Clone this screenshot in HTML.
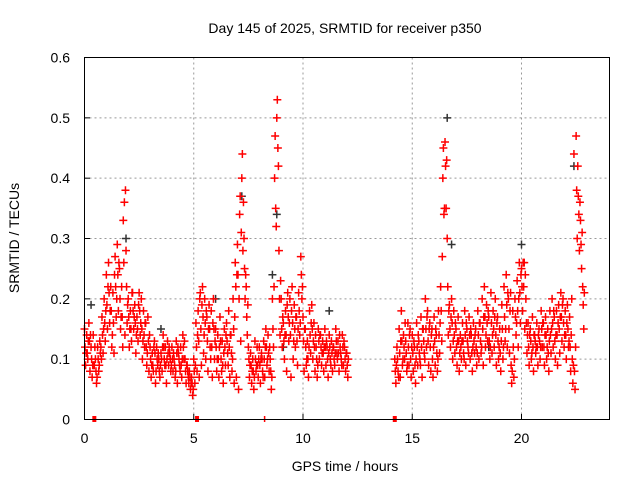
<!DOCTYPE html>
<html><head><meta charset="utf-8"><style>
body{margin:0;background:#fff}
svg{display:block;font-family:"Liberation Sans",sans-serif}
</style></head><body>
<svg id="chart" width="640" height="480" viewBox="0 0 640 480">
<text x="345" y="33" font-size="14" text-anchor="middle">Day 145 of 2025, SRMTID for receiver p350</text>
<text x="0" y="0" font-size="14" text-anchor="middle" transform="translate(19,238) rotate(-90)">SRMTID / TECUs</text>
<text x="345" y="471" font-size="14" text-anchor="middle">GPS time / hours</text>
<g id="grid"></g>
<g id="ticks"></g>
<g id="marks"></g>
<rect x="84.5" y="57.5" width="525" height="362" fill="none" stroke="#000" stroke-width="1"/>
</svg>
<script>
const xTicks=[0,5,10,15,20];
const yTicks=[0,0.1,0.2,0.3,0.4,0.5,0.6];
const yTickLabels=["0","0.1","0.2","0.3","0.4","0.5","0.6"];
const seg1Start=0.0;
const seg2Start=14.2;
const seg1A=[.15,.14,.16,.12,.14,.10,.12,.13,.17,.20,
.24,.26,.22,.21,.27,.29,.25,.22,.26,.28,
.20,.18,.21,.19,.17,.21,.20,.18,.16,.17,
.12,.11,.13,.12,.10,.11,.14,.12,.13,.11,
.12,.10,.13,.11,.12,.14,.10,.09,.08,.07,
.10,.16,.18,.21,.22,.20,.17,.19,.18,.20,
.15,.14,.17,.13,.15,.16,.18,.14,.20,.26,
.29,.34,.40,.30,.22,.12,.11,.10,.13,.12,
.12,.11,.13,.15,.14,.10,.20,.40,.50,.28,
.20,.16,.18,.21,.20,.22,.19,.17,.21,.27,
.17,.15,.13,.18,.19,.16,.12,.15,.14,.13,
.15,.12,.14,.13,.12,.15,.13,.12,.14,.12,.11];
const seg1B=[.09,.10,.08,.07,.09,.06,.08,.12,.11,.13,
.15,.16,.12,.11,.17,.18,.15,.12,.14,.16,
.12,.13,.15,.11,.13,.14,.10,.12,.09,.08,
.07,.08,.06,.09,.07,.08,.10,.06,.09,.08,
.08,.07,.06,.09,.07,.10,.06,.07,.05,.04,
.06,.08,.07,.09,.11,.10,.08,.12,.07,.10,
.08,.07,.10,.06,.09,.11,.07,.08,.06,.07,
.05,.13,.28,.20,.14,.07,.06,.05,.08,.07,
.06,.08,.07,.09,.08,.05,.12,.35,.45,.14,
.12,.10,.08,.13,.07,.10,.12,.09,.14,.20,
.08,.09,.07,.11,.10,.08,.07,.10,.09,.08,
.09,.07,.10,.08,.09,.11,.08,.10,.09,.08,.07];
const seg1C=[.12,.11,.13,.10,.09,.08,.10,.11,.14,.16,
.19,.21,.18,.16,.22,.24,.20,.17,.36,.22,
.17,.15,.18,.16,.15,.18,.15,.14,.12,.13,
.10,.09,.11,.10,.08,.10,.12,.09,.11,.10,
.10,.09,.11,.10,.09,.12,.08,.08,.07,.06,
.08,.12,.13,.15,.17,.16,.13,.15,.12,.15,
.12,.10,.13,.09,.12,.13,.12,.11,.15,.22,
.24,.37,.44,.25,.17,.10,.09,.08,.10,.09,
.09,.10,.10,.12,.11,.08,.15,.47,.53,.20,
.15,.13,.14,.17,.14,.16,.15,.13,.18,.24,
.13,.12,.10,.14,.15,.12,.10,.13,.12,.11,
.12,.10,.12,.11,.10,.13,.11,.11,.12,.10,.09];
const seg1D=[.11,.13,.14,.09,.12,.07,.09,.10,.15,.18,
.22,.18,.14,.24,.20,.26,.17,.33,.38,.19,
.15,.21,.17,.14,.19,.16,.13,.16,.11,.14,
.09,.12,.08,.11,.09,.12,.09,.10,.12,.09,
.11,.08,.12,.08,.10,.13,.09,.06,.06,.05,
.09,.14,.20,.19,.14,.18,.15,.10,.16,.13,
.10,.12,.08,.11,.14,.09,.14,.10,.17,.24,
.20,.31,.36,.24,.19,.09,.08,.07,.09,.10,
.10,.07,.12,.10,.12,.07,.22,.32,.42,.23,
.17,.14,.19,.16,.18,.13,.17,.15,.16,.22,
.15,.10,.12,.16,.13,.14,.09,.14,.11,.12,
.13,.11,.09,.12,.11,.10,.14,.09,.13,.11,.10];
const seg2A=[.10,.12,.15,.18,.14,.13,.16,.15,
.14,.12,.16,.13,.17,.15,.20,.18,.16,.15,
.17,.14,.18,.22,.40,.46,.30,.19,.20,.18,
.15,.17,.14,.16,.18,.15,.17,.14,.16,.15,
.18,.16,.20,.22,.19,.17,.21,.18,.20,.17,
.15,.19,.22,.24,.20,.21,.18,.20,.23,.26,
.25,.22,.20,.16,.15,.17,.14,.16,.15,.18,
.16,.17,.15,.18,.20,.17,.18,.19,.21,.20,
.18,.19,.17,.20,.44,.47,.37,.33,.22];
const seg2B=[.06,.08,.07,.09,.10,.08,.09,.07,
.08,.06,.09,.10,.07,.11,.12,.09,.08,.07,
.09,.08,.11,.13,.34,.35,.14,.12,.10,.11,
.09,.08,.10,.11,.09,.12,.10,.08,.11,.09,
.10,.11,.09,.12,.13,.10,.11,.12,.09,.10,
.08,.10,.13,.12,.11,.06,.07,.14,.12,.16,
.18,.15,.11,.09,.10,.08,.11,.09,.10,.12,
.09,.10,.08,.11,.12,.10,.09,.11,.13,.12,
.10,.12,.08,.06,.05,.30,.28,.25,.15];
const seg2C=[.08,.10,.11,.13,.12,.11,.12,.10,
.11,.09,.12,.11,.12,.13,.15,.13,.12,.10,
.13,.11,.14,.18,.45,.42,.22,.15,.16,.14,
.12,.13,.12,.13,.14,.13,.14,.11,.13,.12,
.14,.13,.15,.17,.16,.13,.16,.15,.14,.13,
.11,.15,.17,.19,.15,.09,.12,.17,.18,.21,
.22,.26,.16,.12,.13,.12,.13,.12,.13,.15,
.12,.14,.11,.14,.16,.13,.14,.15,.17,.16,
.14,.15,.12,.10,.08,.38,.34,.29,.19];
const seg2D=[.09,.07,.13,.10,.16,.09,.14,.12,
.13,.10,.14,.09,.15,.10,.17,.15,.14,.12,
.15,.10,.16,.27,.35,.43,.18,.17,.13,.16,
.13,.11,.13,.10,.16,.11,.15,.12,.14,.11,
.16,.12,.17,.14,.18,.12,.14,.17,.16,.12,
.13,.12,.15,.21,.18,.08,.10,.16,.20,.24,
.26,.24,.14,.14,.11,.14,.12,.14,.12,.16,
.14,.12,.13,.15,.18,.14,.16,.17,.19,.14,
.16,.13,.14,.09,.12,.42,.36,.31,.21];
const blackT=[1.9,7.2,8.6,8.8,9.1,11.2,16.6,16.8,20.0,22.4,0.3,3.5,6.0,18.5];
const blackV=[.30,.37,.24,.34,.12,.18,.50,.29,.29,.42,.19,.15,.20,.12];
const flagT=[0.45,5.15,8.3,14.2];

const X=h=>84.5+h*21.85;
const Y=v=>419.5-v*603.3;
const NS="http://www.w3.org/2000/svg";
function mk(tag,attrs,parent){const e=document.createElementNS(NS,tag);for(const k in attrs)e.setAttribute(k,attrs[k]);parent.appendChild(e);return e;}
const grid=document.getElementById('grid'),ticks=document.getElementById('ticks'),marks=document.getElementById('marks');
xTicks.forEach(t=>{
 if(t>0){const l=mk('line',{x1:X(t),x2:X(t),y1:57.5,y2:419.5,stroke:'#999','stroke-dasharray':'2,3'},grid);
 
 }
 const tk=mk('line',{x1:X(t),x2:X(t),y1:419.5,y2:414,stroke:'#000'},ticks);
 
 
 const tx=mk('text',{x:X(t),y:443,'font-size':14,'text-anchor':'middle'},ticks);tx.textContent=t;
 
 
});
yTicks.forEach((v,i)=>{
 if(i>0&&i<yTicks.length-1){const l=mk('line',{x1:84.5,x2:609.5,y1:Y(v),y2:Y(v),stroke:'#999','stroke-dasharray':'2,3'},grid);
 
 }
 const tk=mk('line',{x1:84.5,x2:90,y1:Y(v),y2:Y(v),stroke:'#000'},ticks);
 
 
 const tx=mk('text',{x:70,y:Y(v)+5,'font-size':14,'text-anchor':'end'},ticks);tx.textContent=yTickLabels[i];
 
 
});
function cross(t,v,col,name){
 const x=X(t),y=Y(v);
 const p=mk('path',{d:`M${x-4},${y}H${x+4}M${x},${y-4}V${y+4}`,stroke:col,'stroke-width':1.5,fill:'none'},marks);
 
 
}
blackT.forEach((t,i)=>cross(t,blackV[i],'#333','black-point'));
[[seg1Start,seg1A,0],[seg1Start,seg1B,0.05],[seg1Start,seg1C,0.025],[seg1Start,seg1D,0.075],
 [seg2Start,seg2A,0],[seg2Start,seg2B,0.05],[seg2Start,seg2C,0.025],[seg2Start,seg2D,0.075]].forEach(([s,arr,off])=>{
 arr.forEach((v,i)=>cross(s+i*0.1+off,v,'#f00','red-point'));
});
flagT.forEach(t=>{
 const r=mk('rect',{x:X(t)-2,y:416,width:t===8.3?1.5:4,height:6,fill:'#f00'},marks);
 
 
});
</script>
</body></html>
